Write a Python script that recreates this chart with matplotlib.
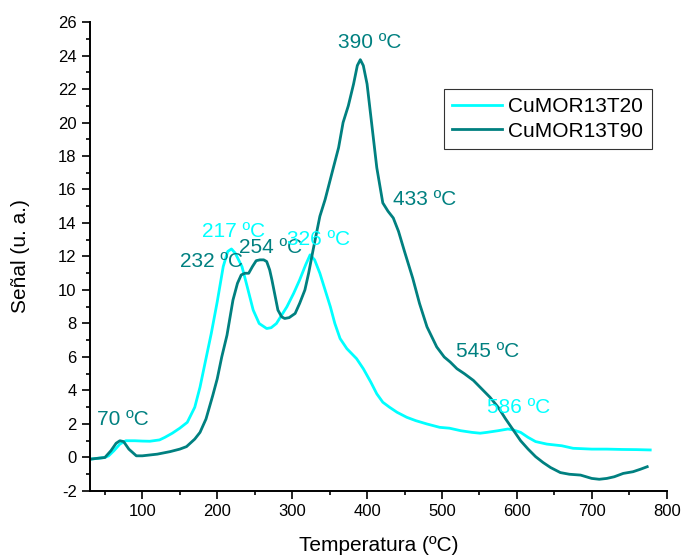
import matplotlib
matplotlib.use("Agg")
import matplotlib.pyplot as plt
from matplotlib.ticker import MultipleLocator

plt.rcParams['font.family'] = ['Liberation Sans', 'DejaVu Sans']
plt.rcParams['axes.unicode_minus'] = False

# CuMOR13T20 (cyan)
t20_x = [30, 40, 50, 55, 62, 70, 78, 90, 100, 110, 123, 130, 140, 150, 160, 170,
         177, 184, 192, 200, 208, 214, 219, 224, 233, 240, 248, 256, 266, 272, 279,
         286, 293, 302, 310, 318, 324, 330, 337, 344, 351, 357, 364, 373, 386, 395,
         405, 413, 421, 430, 440, 453, 465, 480, 497, 510, 525, 540, 551, 560, 575,
         588, 595, 605, 615, 625, 640, 660, 675, 700, 720, 740, 760, 778]
t20_y = [-0.1, -0.05, 0.0, 0.1, 0.4, 0.8, 1.0, 1.0, 0.98, 0.97, 1.05, 1.2, 1.45, 1.75,
         2.1, 3.0, 4.2, 5.7, 7.4, 9.3, 11.4, 12.3, 12.45, 12.2, 11.4, 10.2, 8.8, 8.0,
         7.7, 7.75, 8.0, 8.5, 9.0, 9.8, 10.6, 11.5, 12.1, 11.8, 11.0, 10.0, 9.0, 8.0,
         7.1, 6.5, 5.9, 5.3, 4.5, 3.8, 3.3, 3.0, 2.7, 2.4, 2.2, 2.0, 1.8, 1.75, 1.6,
         1.5, 1.45, 1.5, 1.6, 1.7, 1.65, 1.5, 1.2, 0.95, 0.8, 0.7, 0.55, 0.5, 0.5,
         0.48, 0.47, 0.45]

# CuMOR13T90 (teal)
t90_x = [30, 40, 50, 58, 65, 70, 75, 82, 92, 100, 110, 120, 137, 150, 159, 170, 177,
         185, 194, 200, 206, 213, 221, 227, 232, 237, 242, 247, 252, 257, 262, 266,
         270, 273, 277, 281, 286, 290, 296, 304, 310, 317, 322, 328, 337, 344, 355,
         362, 368, 375, 382, 387, 391, 395, 400, 406, 413, 421, 428, 435, 442, 450,
         461, 470, 480, 493, 503, 511, 520, 530, 542, 553, 564, 575, 585, 595, 605,
         615, 625, 635, 645, 658, 670, 685, 700, 710, 720, 730, 742, 755, 765, 774]
t90_y = [-0.1, -0.05, 0.0, 0.4, 0.85, 1.0, 0.95, 0.5, 0.1, 0.1, 0.15, 0.2, 0.35,
         0.5, 0.65, 1.1, 1.5, 2.3, 3.7, 4.7, 6.0, 7.3, 9.4, 10.4, 10.9, 11.0, 11.0,
         11.4, 11.75, 11.8, 11.8, 11.7, 11.2, 10.6, 9.7, 8.8, 8.4, 8.3, 8.35, 8.6,
         9.2, 10.0, 11.0, 12.4, 14.4, 15.4, 17.3, 18.5, 20.0, 21.0, 22.3, 23.4, 23.75,
         23.4, 22.3, 20.0, 17.3, 15.2, 14.7, 14.3, 13.5, 12.3, 10.7, 9.2, 7.8, 6.6,
         6.0, 5.7, 5.3, 5.0, 4.6, 4.1, 3.6, 3.0, 2.3, 1.65, 1.0, 0.5, 0.05, -0.3,
         -0.6, -0.9, -1.0, -1.05, -1.25, -1.3, -1.25, -1.15, -0.95, -0.85, -0.7, -0.55]

# peak labels: text, x, y, series
peak_txt = ["70 ºC", "232 ºC", "254 ºC", "390 ºC", "433 ºC", "545 ºC",
            "217 ºC", "326 ºC", "586 ºC"]
peak_x = [39, 150, 229, 403, 435, 519, 180, 293, 560]
peak_y = [2.25, 11.7, 12.55, 24.75, 15.4, 6.3, 13.5, 13.0, 3.0]
peak_ha = ["left", "left", "left", "center", "left", "left", "left", "left", "left"]
peak_serie = [1, 1, 1, 1, 1, 1, 0, 0, 0]

colores = ["#00FFFF", "#008080"]

fig = plt.figure(figsize=(6.81, 5.57), dpi=100)
ax = fig.add_axes([0.132, 0.1185, 0.847, 0.842])

ax.plot(t20_x, t20_y, color=colores[0], lw=2.0, label="CuMOR13T20")
ax.plot(t90_x, t90_y, color=colores[1], lw=2.0, label="CuMOR13T90")

for txt, x, y, ha, s in zip(peak_txt, peak_x, peak_y, peak_ha, peak_serie):
    ax.text(x, y, txt, color=colores[s], fontsize=15, ha=ha, va="center")

ax.set_xlim(30, 800)
ax.set_ylim(-2, 26)
ax.xaxis.set_major_locator(MultipleLocator(100))
ax.xaxis.set_minor_locator(MultipleLocator(50))
ax.yaxis.set_major_locator(MultipleLocator(2))
ax.yaxis.set_minor_locator(MultipleLocator(1))
ax.tick_params(which="major", length=6, width=1.2, labelsize=12, direction="out")
ax.tick_params(which="minor", length=3, width=1.2, direction="out")
for lado in ["top", "right"]:
    ax.spines[lado].set_visible(False)
for lado in ["left", "bottom"]:
    ax.spines[lado].set_linewidth(1.4)

ax.set_xlabel("Temperatura (ºC)", fontsize=15, labelpad=12)
ax.set_ylabel("Señal (u. a.)", fontsize=15, labelpad=20)

leg = ax.legend(loc="upper right", bbox_to_anchor=(0.974, 0.857), fontsize=15,
                frameon=True, fancybox=False, edgecolor="black", borderaxespad=0,
                handlelength=2.4, handletextpad=0.3, labelspacing=0.25, borderpad=0.4)
leg.get_frame().set_linewidth(0.8)

fig.savefig("out.png", dpi=100)
